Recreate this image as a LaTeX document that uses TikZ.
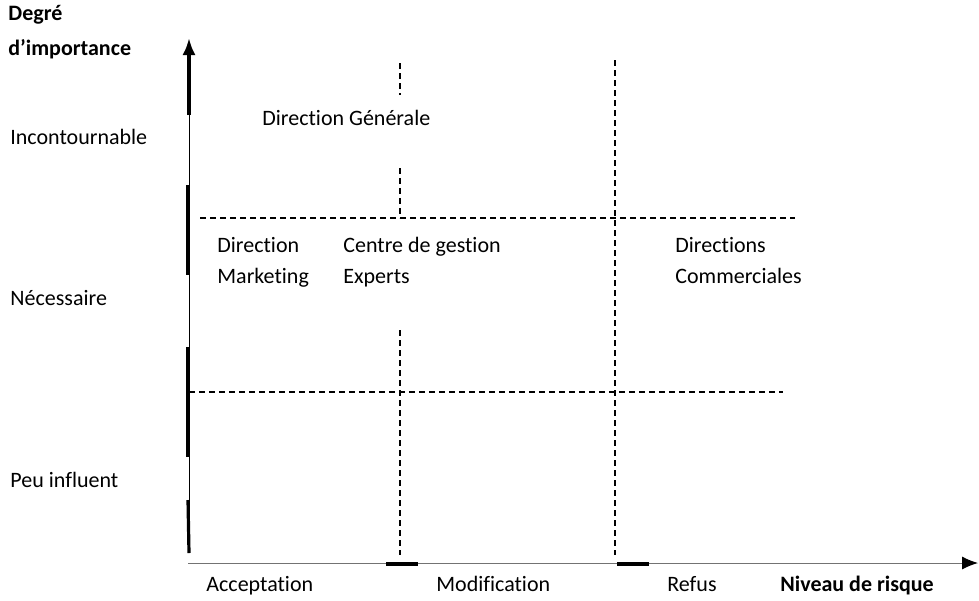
\documentclass[tikz,border=0pt]{standalone}
\usepackage{fontspec}
\setmainfont{Carlito}[Ligatures={NoCommon,NoContextual,NoRequired}]
\usetikzlibrary{arrows.meta}
\begin{document}
\begin{tikzpicture}[x=0.5pt, y=-0.5pt, line cap=butt, >={Latex[length=8.5pt,width=6.5pt]},
	font=\fontsize{11}{15}\selectfont,
	lbl/.style={anchor=base west, inner sep=0pt},
	axe/.style={line width=0.5pt},
	palier/.style={line width=1.6pt},
	limite/.style={line width=1pt, dash pattern=on 3pt off 2pt}]
	
	% Cadre de l'image (unités en pixels)
	\useasboundingbox (0,0) rectangle (979,600);
	
	% Points des axes
	\coordinate (O) at (189,553);
	\coordinate (Ycoupe) at (189,115);
	\coordinate (Y) at (189,38);
	\coordinate (X0) at (188,563);
	\coordinate (X) at (978,563);
	
	% Axe vertical : degré d'importance
	\draw[axe] (O) -- (Ycoupe);
	\draw[palier, ->] (Ycoupe) -- (Y);
	\draw[palier] (188,185) -- (188,275);
	\draw[palier] (188,347) -- (188,457);
	\draw[palier] (188,500) -- (O);
	
	% Axe horizontal : niveau de risque
	\draw[axe, black!55, -{Latex[length=8pt,width=6.5pt,black]}] (X0) -- (X);
	\draw[palier] (386,564) -- (418,564);
	\draw[palier] (617,564) -- (649,564);
	
	% Séparations en pointillés
	\coordinate (A1) at (400,63);  \coordinate (A2) at (400,95);
	\coordinate (A3) at (400,168); \coordinate (A4) at (400,218);
	\coordinate (A5) at (400,330); \coordinate (A6) at (400,555);
	\draw[limite] (A1) -- (A2);
	\draw[limite] (A3) -- (A4);
	\draw[limite] (A5) -- (A6);
	\coordinate (B1) at (615,60);  \coordinate (B2) at (615,555);
	\draw[limite] (B1) -- (B2);
	\coordinate (H1) at (200,218); \coordinate (H2) at (795,218);
	\draw[limite] (H1) -- (H2);
	\coordinate (H3) at (189,392); \coordinate (H4) at (783,392);
	\draw[limite] (H3) -- (H4);
	
	% Titre de l'axe vertical et niveaux
	\node[lbl, font=\fontsize{11}{15}\selectfont\bfseries] (degre) at (8,20) {Degré};
	\node[lbl, font=\fontsize{11}{15}\selectfont\bfseries] (importance) at (8,55) {d’importance};
	\node[lbl] (incont) at (10,144) {Incontournable};
	\node[lbl] (necess) at (10,305) {Nécessaire};
	\node[lbl] (peu) at (10,487) {Peu influent};
	
	% Acteurs placés dans la grille
	\node[lbl] (dg) at (262,125) {Direction Générale};
	\node[lbl] (dm1) at (217,252) {Direction};
	\node[lbl] (dm2) at (217,283) {Marketing};
	\node[lbl] (cg1) at (343,252) {Centre de gestion};
	\node[lbl] (cg2) at (343,283) {Experts};
	\node[lbl] (dc1) at (675,252) {Directions};
	\node[lbl] (dc2) at (675,283) {Commerciales};
	
	% Niveaux de risque
	\node[lbl] (accept) at (206,591) {Acceptation};
	\node[lbl] (modif) at (436,591) {Modification};
	\node[lbl] (refus) at (667,591) {Refus};
	\node[lbl, font=\fontsize{11}{15}\selectfont\bfseries] (risque) at (780,591) {Niveau de risque};
	
\end{tikzpicture}
\end{document}
